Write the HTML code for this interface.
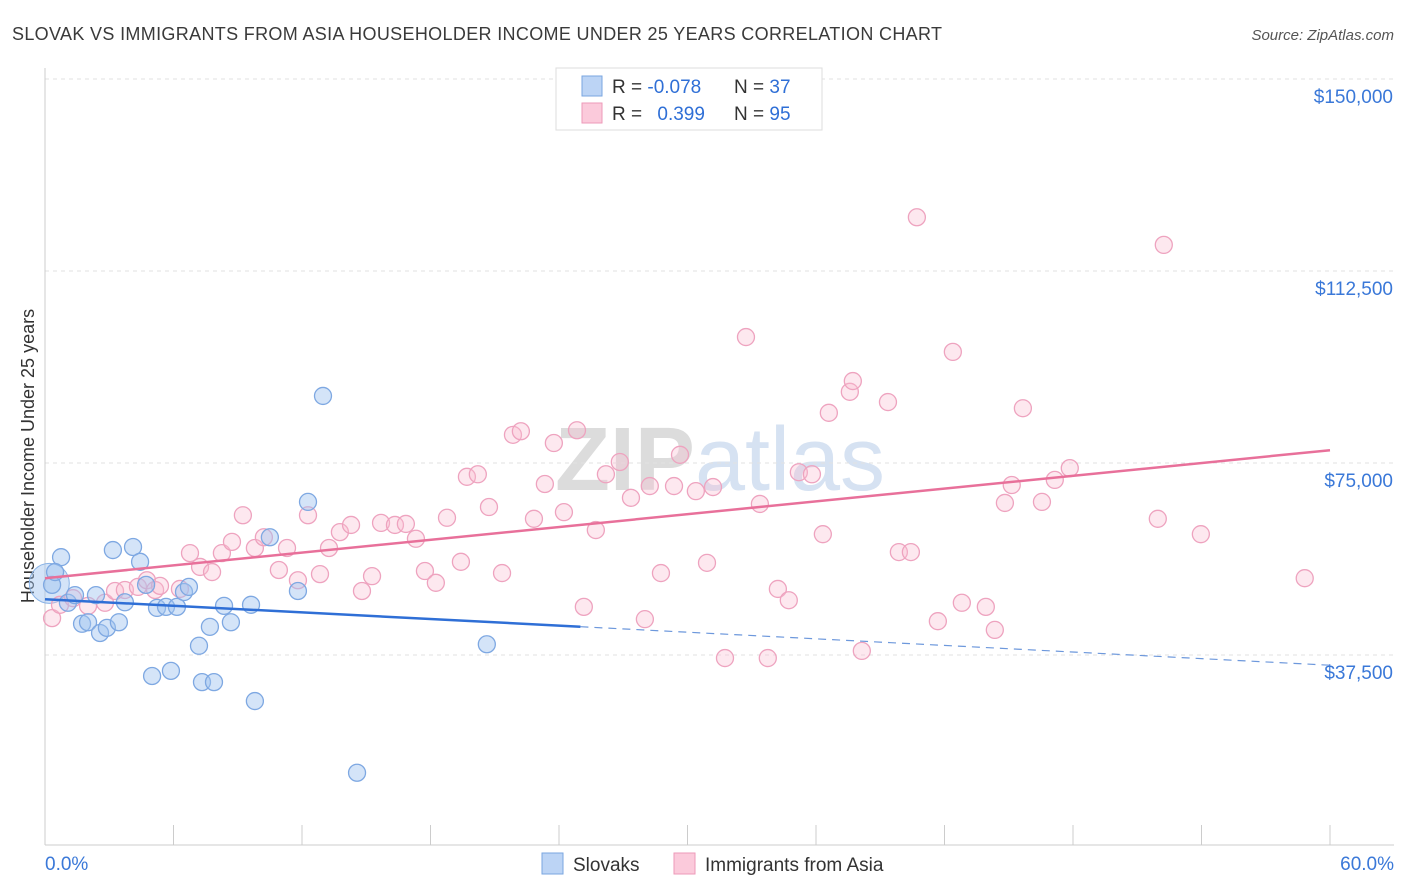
<!DOCTYPE html>
<html><head><meta charset="utf-8">
<style>
body{margin:0;background:#fff;font-family:"Liberation Sans",sans-serif;}
#wrap{position:relative;width:1406px;height:892px;overflow:hidden;}
svg text{font-family:"Liberation Sans",sans-serif;}
</style></head>
<body>
<div id="wrap">
<svg id="chart" width="1406" height="892">
<text x="12" y="40" font-size="18" fill="#3a3a3a" textLength="930" lengthAdjust="spacing">SLOVAK VS IMMIGRANTS FROM ASIA HOUSEHOLDER INCOME UNDER 25 YEARS CORRELATION CHART</text>
<text x="1394" y="40" font-size="15" fill="#555" text-anchor="end" font-style="italic">Source: ZipAtlas.com</text>
<text x="720" y="490" font-size="90" fill="#e4e4e4" text-anchor="middle" font-family="Liberation Serif"><tspan font-weight="bold" fill="#dcdcdc">ZIP</tspan><tspan fill="#d6e2f2" font-family="Liberation Sans">atlas</tspan></text>
<text transform="translate(34,456) rotate(-90)" font-size="18" fill="#333" text-anchor="middle">Householder Income Under 25 years</text>
<g id="grid"></g><g id="pts"></g><g id="trends"></g>
<g>
<rect x="556" y="68" width="266" height="62" fill="#fff" stroke="#ddd"/>
<rect x="582" y="76" width="20" height="20" fill="#bcd4f5" stroke="#7aa6e0"/>
<rect x="582" y="103" width="20" height="20" fill="#fbcadb" stroke="#ee9ab8"/>
<text x="612" y="93" font-size="19" fill="#333">R = <tspan fill="#2f6fd6">-0.078</tspan></text>
<text x="734" y="93" font-size="19" fill="#333">N = <tspan fill="#2f6fd6">37</tspan></text>
<text x="612" y="120" font-size="19" fill="#333">R = <tspan fill="#2f6fd6" dx="10">0.399</tspan></text>
<text x="734" y="120" font-size="19" fill="#333">N = <tspan fill="#2f6fd6">95</tspan></text>
</g>
<g>
<rect x="542" y="853" width="21" height="21" fill="#bcd4f5" stroke="#7aa6e0"/>
<text x="573" y="871" font-size="19" fill="#333">Slovaks</text>
<rect x="674" y="853" width="21" height="21" fill="#fbcadb" stroke="#ee9ab8"/>
<text x="705" y="871" font-size="19" fill="#333">Immigrants from Asia</text>
</g>
<text x="45" y="870" font-size="19" fill="#3a78d8">0.0%</text>
<text x="1394" y="870" font-size="19" fill="#3a78d8" text-anchor="end">60.0%</text>
</svg>
</div>
<script>
const yTicks=[150000,112500,75000,37500];
const yTickLabels=["$150,000","$112,500","$75,000","$37,500"];
const xTicks=[0,6,12,18,24,30,36,42,48,54,60];
const slovakX=[0.33,0.75,0.47,1.07,1.40,1.73,2.01,2.38,2.57,2.89,3.17,3.45,3.73,4.11,4.44,4.72,5.00,5.23,5.65,5.88,6.16,6.49,6.72,7.19,7.33,7.70,7.89,8.36,8.68,9.62,9.80,10.50,11.81,12.28,12.98,14.57,20.63];
const slovakY=[51.2,56.6,53.7,47.7,49.2,43.6,43.9,49.2,41.8,42.8,58.0,43.9,47.8,58.6,55.7,51.2,33.4,46.7,46.9,34.4,46.9,49.8,50.8,39.3,32.2,43.0,32.2,47.1,43.9,47.3,28.5,60.5,50.0,67.4,88.1,14.5,39.6];
const asiaX=[0.33,0.70,1.31,2.01,2.80,3.27,3.73,4.34,4.76,5.14,5.37,6.30,6.77,7.24,7.80,8.26,8.73,9.24,9.80,10.22,10.92,11.30,11.81,12.28,12.84,13.26,13.77,14.29,14.80,15.27,15.69,16.34,16.85,17.32,17.74,18.25,18.77,19.42,19.70,20.21,20.73,21.34,21.85,22.22,22.83,23.34,23.76,24.23,24.84,25.16,25.72,26.19,26.84,27.36,28.01,28.24,28.76,29.37,29.65,30.39,30.91,31.19,31.75,32.73,33.38,33.75,34.22,34.73,35.20,35.81,36.32,36.60,37.58,37.72,38.14,39.36,39.87,40.43,40.71,41.69,42.39,42.81,43.93,44.35,44.82,45.14,45.66,46.55,47.15,47.85,51.96,52.24,53.97,58.82];
const asiaY=[44.7,47.3,48.6,47.1,47.7,50.0,50.2,50.8,52.1,50.2,51.0,50.4,57.4,54.7,53.7,57.4,59.6,64.8,58.4,60.5,54.1,58.4,52.1,64.8,53.3,58.4,61.5,62.9,50.0,52.9,63.3,62.9,63.1,60.2,53.9,51.6,64.3,55.7,72.3,72.8,66.4,53.5,80.5,81.2,64.1,70.9,78.9,65.4,81.4,46.9,61.9,72.8,75.2,68.2,44.5,70.5,53.5,70.5,76.6,69.5,55.5,70.3,36.9,99.6,67.0,36.9,50.4,48.2,73.2,72.8,61.1,84.8,88.9,91.0,38.3,86.9,57.6,57.6,123.0,44.1,96.7,47.7,46.9,42.4,67.2,70.7,85.7,67.4,71.7,74.0,64.1,117.6,61.1,52.5];
const slovakTrend=[48.4,35.5];
const asiaTrend=[52.5,77.5];
const slovakSolidEnd=25;
const NS="http://www.w3.org/2000/svg";
const X0=45,X1=1330,YZ=847,PXK=192/37.5;
function sx(p){return X0+(p/60)*(X1-X0);}
function sy(k){return YZ-k*PXK;}
function mk(t,a,parent){const e=document.createElementNS(NS,t);for(const k in a)e.setAttribute(k,a[k]);parent.appendChild(e);return e;}
const grid=document.getElementById('grid'),pts=document.getElementById('pts'),tr=document.getElementById('trends');
yTicks.forEach((v,i)=>{
 const y=sy(v/1000);
 const l=mk('line',{x1:X0,x2:1394,y1:y,y2:y,stroke:'#e2e2e2','stroke-dasharray':'4,4'},grid);
 
 
 const t=mk('text',{x:1393,y:y+24,'font-size':19,fill:'#3a78d8','text-anchor':'end'},grid);
 t.textContent=yTickLabels[i];
 
 
});
const ax=mk('line',{x1:X0,x2:X0,y1:68,y2:845,stroke:'#ccc'},grid);


const bx=mk('line',{x1:X0,x2:1394,y1:845,y2:845,stroke:'#ccc'},grid);


xTicks.forEach(v=>{
 const t=mk('line',{x1:sx(v),x2:sx(v),y1:825,y2:845,stroke:'#ccc'},grid);
 
 
});
const big=mk('circle',{cx:sx(0.2),cy:sy(51.5),r:20,fill:'rgba(160,196,240,0.45)',stroke:'#8ab3e6'},pts);


asiaX.forEach((x,i)=>{
 const c=mk('circle',{cx:sx(x),cy:sy(asiaY[i]),r:8.5,fill:'rgba(248,190,210,0.35)',stroke:'#eea3bf','stroke-width':1.3},pts);
 
 
});
slovakX.forEach((x,i)=>{
 const c=mk('circle',{cx:sx(x),cy:sy(slovakY[i]),r:8.5,fill:'rgba(160,196,240,0.45)',stroke:'#7ea8e2','stroke-width':1.3},pts);
 
 
});
function ty(tn,x){return tn[0]+(tn[1]-tn[0])*x/60;}
const a=mk('line',{x1:sx(0),y1:sy(ty(asiaTrend,0)),x2:sx(60),y2:sy(ty(asiaTrend,60)),stroke:'#e8709a','stroke-width':2.5},tr);


const b1=mk('line',{x1:sx(0),y1:sy(ty(slovakTrend,0)),x2:sx(slovakSolidEnd),y2:sy(ty(slovakTrend,slovakSolidEnd)),stroke:'#2f6fd6','stroke-width':2.5},tr);


const b2=mk('line',{x1:sx(slovakSolidEnd),y1:sy(ty(slovakTrend,slovakSolidEnd)),x2:sx(60),y2:sy(ty(slovakTrend,60)),stroke:'#6d98dc','stroke-width':1.2,'stroke-dasharray':'8,6'},tr);


</script>
</body></html>
